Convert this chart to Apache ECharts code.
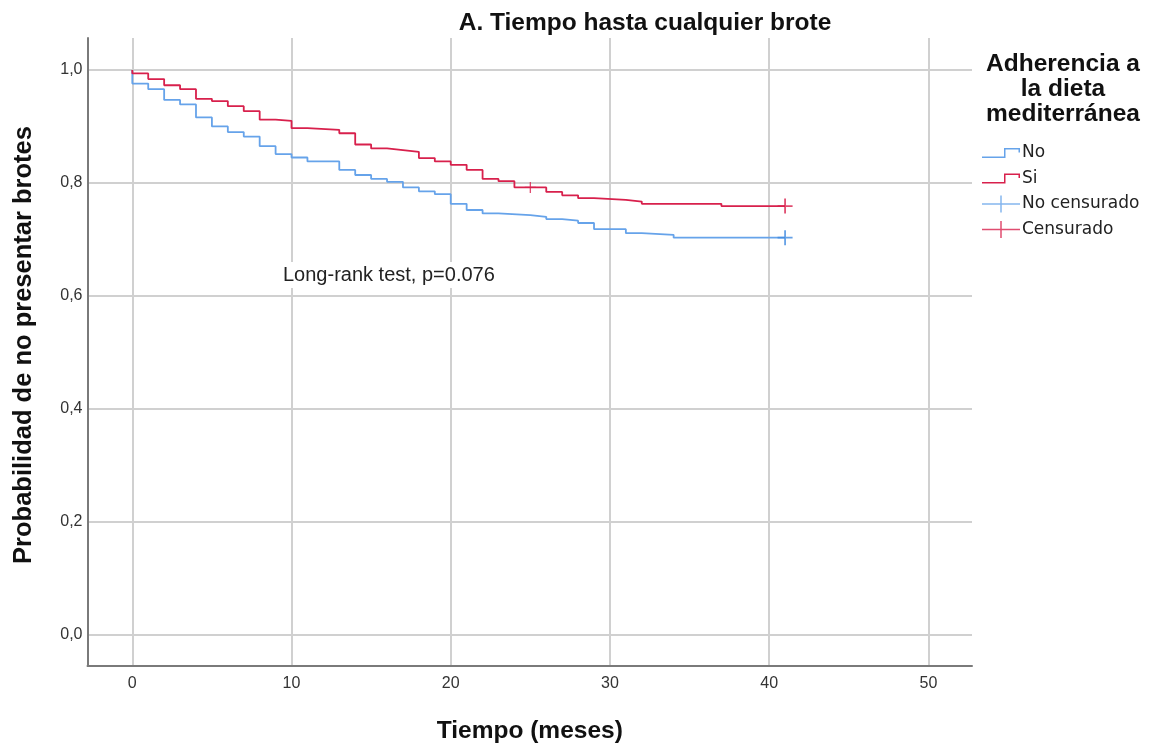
<!DOCTYPE html>
<html>
<head>
<meta charset="utf-8">
<script src="https://cdn.jsdelivr.net/npm/echarts@6/dist/echarts.min.js"></script>
<style>
  html, body { margin: 0; padding: 0; background: #fff; }
  #chart { width: 1156px; height: 749px; }
</style>
</head>
<body>
<div id="chart"></div>
<script>
// Kaplan-Meier estimates: time (months) and survival after each event
const timesNo = [0, 0, 1, 2, 3, 4, 5, 6, 7, 8, 9, 10, 11, 13, 14, 15, 16, 17, 18, 19, 20, 21, 22, 23, 25, 26, 27, 28, 29, 31, 32, 34, 41];
const survNo  = [1.0, 0.976, 0.966, 0.947, 0.939, 0.916, 0.900, 0.890, 0.882, 0.865, 0.851, 0.845, 0.838, 0.823, 0.814, 0.807, 0.802, 0.792, 0.785, 0.780, 0.763, 0.752, 0.746, 0.743, 0.740, 0.736, 0.733, 0.729, 0.718, 0.711, 0.708, 0.703, 0.703];

const timesSi = [0, 0, 1, 2, 3, 4, 5, 6, 7, 8, 9, 10, 11, 13, 14, 15, 16, 17, 18, 19, 20, 21, 22, 23, 24, 26, 27, 28, 29, 31, 32, 37, 41];
const survSi  = [1.0, 0.994, 0.984, 0.973, 0.966, 0.949, 0.945, 0.936, 0.927, 0.912, 0.910, 0.897, 0.894, 0.888, 0.868, 0.861, 0.858, 0.855, 0.844, 0.838, 0.832, 0.823, 0.807, 0.803, 0.792, 0.784, 0.778, 0.773, 0.770, 0.767, 0.763, 0.759, 0.759];

// Censored observations
const censNoTimes = [41];
const censNoSurv  = [0.703];
const censSiTimes = [25, 41];
const censSiSurv  = [0.792, 0.759];
const censSiSize  = [11, 15];

// Axis ticks
const xTicks = [0, 10, 20, 30, 40, 50];
const yTicks = [0, 0.2, 0.4, 0.6, 0.8, 1.0];

const seriesNames = ['No', 'Si', 'No censurado', 'Censurado'];
const pValueText = 'Long-rank test, p=0.076';

const BLUE = '#66a3ea';
const BLUE_MARK = '#3f8ae0';
const RED = '#d8204c';
const FONT = '"Liberation Sans", Arial, sans-serif';
const LEGEND_FONT = '"DejaVu Sans", sans-serif';

const zip = (a, b) => a.map((v, i) => [v, b[i]]);

const stepIcon = 'path://M0,8.5H22V0H38V4.5H36.5V1.5H23.5V10H0Z';
const crossIcon = 'path://M0,7.75H18.25V0H19.75V7.75H38V9.25H19.75V17H18.25V9.25H0Z';
const plusSymbol = 'path://M8.8,0H11.2V8.8H20V11.2H11.2V20H8.8V11.2H0V8.8H8.8Z';

const chart = echarts.init(document.getElementById('chart'), null, { renderer: 'canvas' });

chart.setOption({
  backgroundColor: '#ffffff',
  animation: false,
  textStyle: { fontFamily: FONT },
  title: [
    {
      text: 'A. Tiempo hasta cualquier brote',
      left: 640, top: 6, textAlign: 'center',
      textStyle: { fontFamily: FONT, fontSize: 24.5, fontWeight: 'bold', color: '#111' }
    },
    {
      text: 'Adherencia a\nla dieta\nmediterránea',
      left: 1058, top: 47, textAlign: 'center',
      textStyle: { fontFamily: FONT, fontSize: 24.5, fontWeight: 'bold', color: '#111', lineHeight: 25 }
    }
  ],
  grid: { left: 87.5, right: 184, top: 38, bottom: 83, containLabel: false },
  xAxis: {
    type: 'value',
    min: -2.814, max: 52.74,
    name: 'Tiempo (meses)',
    nameLocation: 'middle',
    nameGap: 53,
    nameTextStyle: { fontFamily: FONT, fontSize: 24.5, fontWeight: 'bold', color: '#111' },
    axisLine: { show: true, onZero: false, lineStyle: { color: '#7a7a7a', width: 2 } },
    axisTick: { show: false, customValues: xTicks },
    axisLabel: { customValues: xTicks, margin: 10, fontSize: 16, color: '#333', fontFamily: FONT },
    splitLine: { show: true, lineStyle: { color: '#d0d0d0', width: 2 } }
  },
  yAxis: {
    type: 'value',
    min: -0.0558, max: 1.0567,
    axisLine: { show: true, onZero: false, lineStyle: { color: '#7a7a7a', width: 2 } },
    axisTick: { show: false, customValues: yTicks },
    axisLabel: {
      customValues: yTicks, margin: 5, fontSize: 16, color: '#333', fontFamily: FONT,
      formatter: v => v.toFixed(1).replace('.', ',')
    },
    splitLine: { show: true, lineStyle: { color: '#d0d0d0', width: 2 } }
  },
  legend: {
    orient: 'vertical',
    left: 977, top: 139,
    itemWidth: 38, itemHeight: 17, itemGap: 7.5,
    textStyle: { fontFamily: LEGEND_FONT, fontSize: 17, color: '#222', lineHeight: 18, padding: [0, 0, 0, -3] },
    data: [
      { name: seriesNames[0], icon: stepIcon, itemStyle: { color: BLUE } },
      { name: seriesNames[1], icon: stepIcon, itemStyle: { color: RED } },
      { name: seriesNames[2], icon: crossIcon, itemStyle: { color: BLUE } },
      { name: seriesNames[3], icon: crossIcon, itemStyle: { color: RED } }
    ]
  },
  graphic: [
    {
      type: 'text',
      x: 23.5, y: 345,
      rotation: Math.PI / 2,
      style: {
        text: 'Probabilidad de no presentar brotes',
        font: 'bold 25.5px ' + FONT,
        fill: '#111',
        align: 'center',
        verticalAlign: 'middle'
      },
      z: 10
    },
    {
      type: 'text',
      left: 282, top: 262,
      style: {
        text: pValueText,
        font: '20px ' + FONT,
        fill: '#222',
        backgroundColor: '#fff',
        padding: [3, 1, 3, 1]
      },
      z: 10
    }
  ],
  series: [
    {
      name: seriesNames[0], type: 'line', step: 'end',
      data: zip(timesNo, survNo),
      showSymbol: false, symbol: 'none',
      lineStyle: { color: BLUE, width: 1.8 }, itemStyle: { color: BLUE },
      z: 3
    },
    {
      name: seriesNames[1], type: 'line', step: 'end',
      data: zip(timesSi, survSi),
      showSymbol: false, symbol: 'none',
      lineStyle: { color: RED, width: 1.8 }, itemStyle: { color: RED },
      z: 4
    },
    {
      name: seriesNames[2], type: 'scatter',
      data: zip(censNoTimes, censNoSurv),
      symbol: plusSymbol, symbolSize: 15,
      itemStyle: { color: BLUE_MARK },
      z: 5
    },
    {
      name: seriesNames[3], type: 'scatter',
      data: censSiTimes.map((t, i) => ({ value: [t, censSiSurv[i]], symbolSize: censSiSize[i] })),
      symbol: plusSymbol,
      itemStyle: { color: RED },
      z: 6
    }
  ]
});
</script>
</body>
</html>
